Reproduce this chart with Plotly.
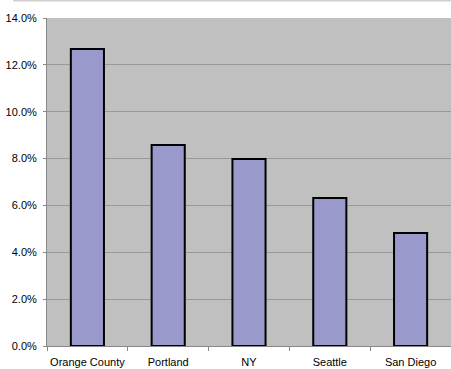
import plotly.graph_objects as go

categories = ["Orange County", "Portland", "NY", "Seattle", "San Diego"]
values = [0.1268, 0.0858, 0.0798, 0.0632, 0.0482]
y_ticks = [0, 0.02, 0.04, 0.06, 0.08, 0.10, 0.12, 0.14]

fig = go.Figure(go.Bar(
    x=categories, y=values,
    marker=dict(color="#9999CC", line=dict(color="#000000", width=2)),
))

fig.update_layout(
    width=451, height=369,
    margin=dict(l=47, r=0, t=18, b=23),
    paper_bgcolor="white", plot_bgcolor="#C0C0C0",
    bargap=0.59, showlegend=False,
    font=dict(family="Liberation Sans, Arial, sans-serif", size=11, color="black"),
    shapes=[dict(type="line", xref="paper", yref="paper",
                 x0=-34/404, x1=1.01, y0=1 + 17.5/328, y1=1 + 17.5/328,
                 line=dict(color="#D0D0D0", width=2))],
)
fig.update_xaxes(
    type="category", range=[-0.5, 4.5], automargin=False, tickangle=0,
    showline=True, linecolor="#888888", linewidth=1,
    ticks="outside", tickson="boundaries", ticklen=4, tickcolor="#888888",
    showgrid=False, ticklabelstandoff=6,
)
fig.update_yaxes(
    range=[0, 0.14], tickvals=y_ticks, tickformat=".1%", automargin=False,
    showline=True, linecolor="#888888", linewidth=1,
    ticks="outside", ticklen=3, tickcolor="#888888",
    gridcolor="#999999", gridwidth=1, zeroline=False,
    ticklabelstandoff=4,
)

fig.write_html("out.html")
